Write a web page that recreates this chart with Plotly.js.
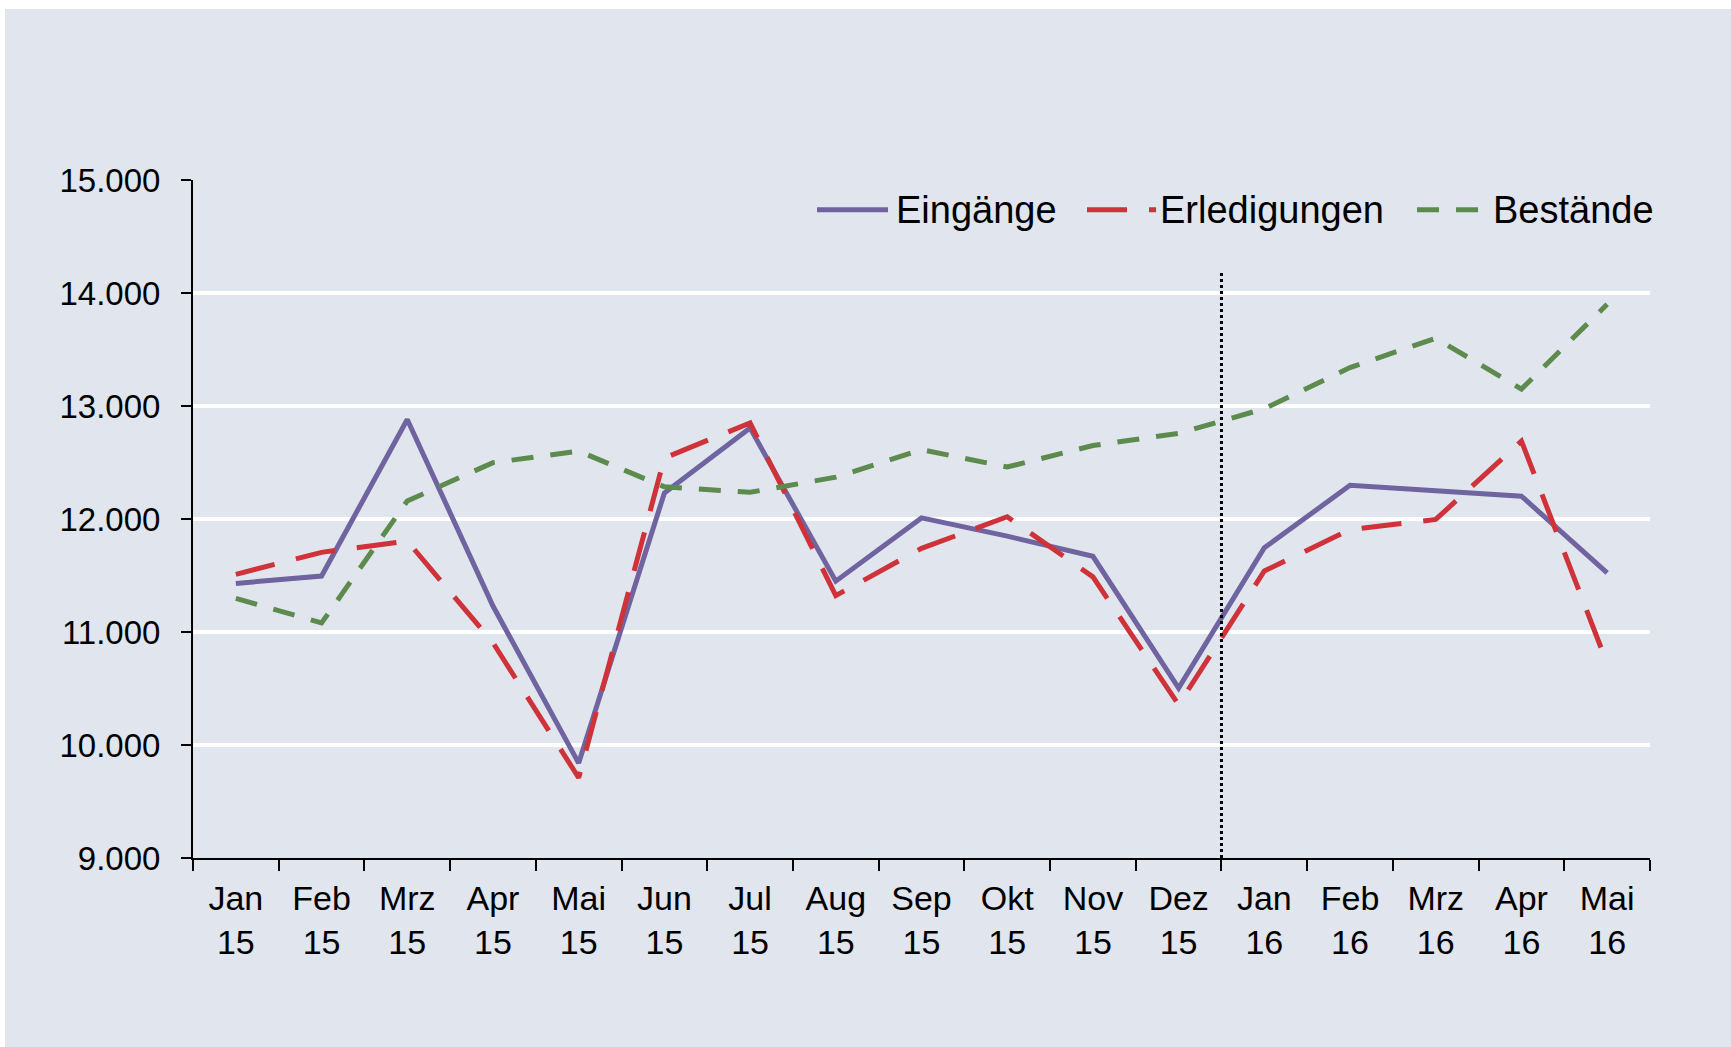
<!DOCTYPE html>
<html>
<head>
<meta charset="utf-8">
<script src="https://cdn.plot.ly/plotly-3.0.1.min.js"></script>
<style>
  html, body { margin: 0; padding: 0; background: #ffffff; }
  #chart { position: absolute; left: 5px; top: 9px; width: 1726px; height: 1038px; }
</style>
</head>
<body>
<div id="chart"></div>
<script>
// ---- data ----
const months = ["Jan", "Feb", "Mrz", "Apr", "Mai", "Jun", "Jul", "Aug", "Sep", "Okt", "Nov", "Dez", "Jan", "Feb", "Mrz", "Apr", "Mai"];
const years  = ["15", "15", "15", "15", "15", "15", "15", "15", "15", "15", "15", "15", "16", "16", "16", "16", "16"];
const eingaenge     = [11430, 11495, 12880, 11230, 9840, 12230, 12805, 11450, 12010, 11848, 11670, 10503, 11745, 12298, 12250, 12202, 11523];
const erledigungen  = [11510, 11705, 11805, 10905, 9710, 12540, 12850, 11322, 11740, 12020, 11488, 10356, 11540, 11907, 11996, 12690, 10720];
const bestaende     = [11298, 11080, 12160, 12499, 12600, 12285, 12236, 12370, 12614, 12460, 12650, 12758, 12976, 13340, 13600, 13150, 13900];
const seriesNames   = ["Eingänge", "Erledigungen", "Bestände"];
const yTicks        = [9000, 10000, 11000, 12000, 13000, 14000, 15000];
const markerTop     = 14180;   // top of the dotted year separator

const categories = months.map((m, i) => m + "<br>" + years[i]);

const purple = "#6f63a0";
const red    = "#cf3238";
const green  = "#5d8a4d";
const bg     = "#e0e5ee";
const font   = "Liberation Sans, Arial, Helvetica, sans-serif";

const traces = [
  { x: categories, y: eingaenge, name: seriesNames[0], type: "scatter", mode: "lines",
    line: { color: purple, width: 5 } },
  { x: categories, y: erledigungen, name: seriesNames[1], type: "scatter", mode: "lines",
    line: { color: red, width: 5, dash: "40px,22px" } },
  { x: categories, y: bestaende, name: seriesNames[2], type: "scatter", mode: "lines",
    line: { color: green, width: 5, dash: "22px,17px" } }
];

// manual legend geometry (paper coords)
const legY = 0.956;
const legend = [
  { x0: 0.4283, x1: 0.4770, tx: 0.4810, color: purple, dash: "solid", name: seriesNames[0] },
  { x0: 0.6136, x1: 0.6610, tx: 0.6625, color: red,    dash: "40px,22px", name: seriesNames[1] },
  { x0: 0.8401, x1: 0.8840, tx: 0.8910, color: green,  dash: "22px,17px", name: seriesNames[2] }
];

const shapes = [
  { type: "line", xref: "x", yref: "y", x0: 11.5, x1: 11.5, y0: yTicks[0], y1: markerTop,
    line: { color: "#000000", width: 3, dash: "dot" }, layer: "above" }
].concat(legend.map(l => ({
  type: "line", xref: "paper", yref: "paper", x0: l.x0, x1: l.x1, y0: legY, y1: legY,
  line: { color: l.color, width: 5, dash: l.dash }
})));

const annotations = legend.map(l => ({
  xref: "paper", yref: "paper", x: l.tx, y: legY, xanchor: "left", yanchor: "middle",
  text: l.name, showarrow: false, font: { family: font, size: 38, color: "#000000" }
}));

const layout = {
  width: 1726, height: 1038,
  paper_bgcolor: bg, plot_bgcolor: bg,
  margin: { l: 188, r: 81, t: 171, b: 189 },
  separators: ",.",
  showlegend: false,
  font: { family: font, size: 32, color: "#000000" },
  xaxis: {
    type: "category", range: [-0.5, 16.5],
    tickson: "boundaries", ticks: "outside", ticklen: 11, tickwidth: 2, tickcolor: "#000000",
    showline: true, linecolor: "#000000", linewidth: 2,
    showgrid: false, zeroline: false,
    ticklabelstandoff: 9,
    tickfont: { family: font, size: 34, color: "#000000" }
  },
  yaxis: {
    range: [yTicks[0], yTicks[yTicks.length - 1]],
    tickvals: yTicks, tickformat: ",.0f",
    ticks: "outside", ticklen: 10, tickwidth: 2, tickcolor: "#000000",
    showline: true, linecolor: "#000000", linewidth: 2,
    showgrid: true, gridcolor: "#ffffff", gridwidth: 3.5,
    zeroline: false,
    ticklabelstandoff: 14,
    tickfont: { family: font, size: 33, color: "#000000" }
  },
  shapes: shapes,
  annotations: annotations
};

Plotly.newPlot("chart", traces, layout, { displayModeBar: false, staticPlot: true });
</script>
</body>
</html>
